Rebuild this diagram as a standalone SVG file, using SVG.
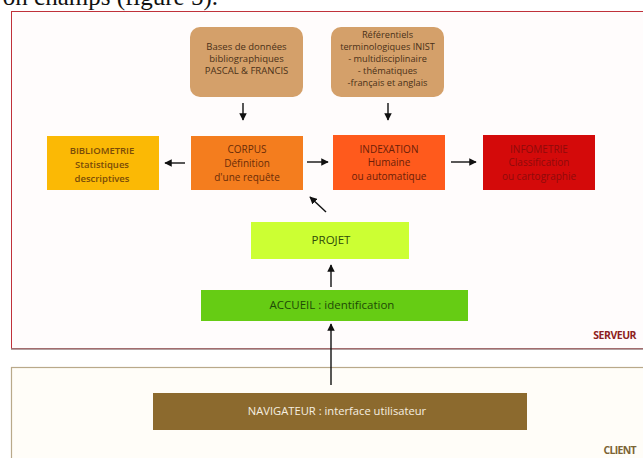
<svg xmlns="http://www.w3.org/2000/svg" width="643" height="458" viewBox="0 0 643 458">
<defs>
<marker id="ah" viewBox="0 0 10 10" refX="9" refY="5" markerWidth="7.5" markerHeight="7.5" orient="auto" markerUnits="userSpaceOnUse">
<path d="M0,0 L10,5 L0,10 z" fill="#111"/>
</marker>
</defs>
<style>
.t{font-family:"Open Sans","Liberation Sans",sans-serif;font-size:9.5px;text-anchor:middle}
.b{font-weight:600}
.c{stroke:#111;stroke-width:1.4;fill:none;marker-end:url(#ah)}
</style>
<rect width="643" height="458" fill="#fff"/>
<text x="218" y="5" font-family="Liberation Serif, serif" font-size="25" text-anchor="end" fill="#111">on champs (figure 5).</text>
<g id="serveur">
<rect x="11.5" y="11.5" width="640" height="337" fill="#fffcfc" stroke="#c0313a" stroke-width="1"/>
<line x1="11" y1="349" x2="643" y2="349" stroke="#9a8080" stroke-width="1.5"/>
<text x="636" y="339" class="t b" style="text-anchor:end;font-size:10.5px;font-weight:700;letter-spacing:-0.5px" fill="#8e1f22">SERVEUR</text>
</g>
<g id="client">
<rect x="11.5" y="367.5" width="640" height="100" fill="#fffdf8" stroke="#b9a98a" stroke-width="1.2"/>
<text x="636" y="454" class="t" style="text-anchor:end;font-size:10.5px;font-weight:700;letter-spacing:-0.7px" fill="#7c6434">CLIENT</text>
</g>
<g id="bases">
<rect x="190" y="27" width="113" height="70" rx="10" fill="#d4a06a"/>
<text class="t" fill="#4a3018"><tspan x="246.5" y="50">Bases de données</tspan><tspan x="246.5" y="62">bibliographiques</tspan><tspan x="246.5" y="74">PASCAL &amp; FRANCIS</tspan></text>
</g>
<g id="referentiels">
<rect x="331" y="27" width="113" height="70" rx="10" fill="#d4a06a"/>
<text class="t" style="font-size:9.2px" fill="#4a3018"><tspan x="387.5" y="38">Référentiels</tspan><tspan x="387.5" y="50">terminologiques INIST</tspan><tspan x="387.5" y="62">- multidisciplinaire</tspan><tspan x="387.5" y="74">- thématiques</tspan><tspan x="387.5" y="86">-français et anglais</tspan></text>
</g>
<g id="bibliometrie">
<rect x="47" y="136" width="112" height="54" fill="#fbb905"/>
<text class="t b" fill="#7a4c08"><tspan x="102" y="154">BIBLIOMETRIE</tspan><tspan x="102" y="168">Statistiques</tspan><tspan x="102" y="182">descriptives</tspan></text>
</g>
<g id="corpus">
<rect x="191" y="136" width="112" height="54" fill="#f47d1e"/>
<text class="t" style="font-size:10px" fill="#6a2c08"><tspan x="247" y="153">CORPUS</tspan><tspan x="247" y="167">Définition</tspan><tspan x="247" y="181">d'une requête</tspan></text>
</g>
<g id="indexation">
<rect x="333" y="135" width="112" height="55" fill="#ff5a1c"/>
<text class="t" style="font-size:10px" fill="#6a1e08"><tspan x="389" y="153">INDEXATION</tspan><tspan x="389" y="166">Humaine</tspan><tspan x="389" y="180">ou automatique</tspan></text>
</g>
<g id="infometrie">
<rect x="483" y="135" width="112" height="55" fill="#d40a0a"/>
<text class="t" style="font-size:10px" fill="#8e0a0a"><tspan x="539" y="153">INFOMETRIE</tspan><tspan x="539" y="166">Classification</tspan><tspan x="539" y="180">ou cartographie</tspan></text>
</g>
<g id="projet">
<rect x="251" y="222" width="158" height="37" fill="#ccff33"/>
<text class="t" x="331" y="244" style="font-size:11.5px" fill="#2e4a0a">PROJET</text>
</g>
<g id="accueil">
<rect x="201" y="290" width="267" height="31" fill="#66cc14"/>
<text class="t" x="332" y="309" style="font-size:11.5px" fill="#1e4a06">ACCUEIL : identification</text>
</g>
<g id="navigateur">
<rect x="153" y="393" width="374" height="37" fill="#8c6a2e"/>
<text class="t" x="337" y="415" style="font-size:11.2px" fill="#f6efe0">NAVIGATEUR : interface utilisateur</text>
</g>
<g id="connectors">
<line class="c" x1="243" y1="103" x2="243" y2="120"/>
<line class="c" x1="388" y1="103" x2="388" y2="120"/>
<line class="c" x1="185" y1="163" x2="165" y2="163"/>
<line class="c" x1="307" y1="162" x2="328" y2="162"/>
<line class="c" x1="451" y1="162" x2="476" y2="162"/>
<line class="c" x1="326" y1="212" x2="310" y2="197"/>
<line class="c" x1="331" y1="287" x2="331" y2="265"/>
<line class="c" x1="331" y1="385" x2="331" y2="324"/>
</g>
</svg>
